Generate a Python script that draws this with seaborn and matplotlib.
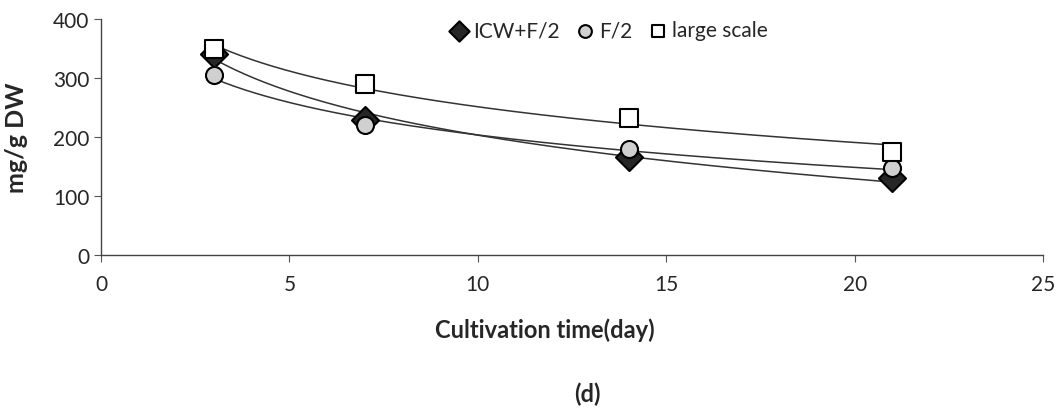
import numpy as np
import pandas as pd
import matplotlib
matplotlib.use("Agg")
import matplotlib.pyplot as plt
import seaborn as sns

# data
days = [3, 7, 14, 21]
icw_f2 = [340, 228, 166, 130]
f2 = [305, 220, 180, 147]
large_scale = [350, 290, 232, 175]

series_names = ["ICW+F/2", "F/2", "large scale"]
series_vals = [icw_f2, f2, large_scale]
markers = ["D", "o", "s"]
faces = ["#262626", "#d0d0d0", "white"]
sizes = [190, 150, 150]

sns.set_style("white")
plt.rcParams["font.family"] = ["Lato", "DejaVu Sans"]

fig = plt.figure(figsize=(10.59, 4.10), dpi=100)
ax = fig.add_axes([0.0954, 0.376, 0.8896, 0.575])

grid = np.linspace(min(days), max(days), 200)
for name, vals, m, fc, s in zip(series_names, series_vals, markers, faces, sizes):
    # logarithmic trendline like Excel
    b, a = np.polyfit(np.log(days), vals, 1)
    trend = pd.DataFrame({"x": grid, "y": a + b * np.log(grid)})
    sns.lineplot(data=trend, x="x", y="y", ax=ax, color="#333333", lw=1.1,
                 zorder=2, legend=False)
    df = pd.DataFrame({"x": days, "y": vals})
    sns.scatterplot(data=df, x="x", y="y", ax=ax, marker=m, s=s, color=fc,
                    edgecolor="black", linewidth=1.5, label=name, zorder=3)

ax.set_xlim(0, 25)
ax.set_ylim(0, 400)
ax.set_xticks([0, 5, 10, 15, 20, 25])
ax.set_yticks([0, 100, 200, 300, 400])
ax.tick_params(axis="both", labelsize=15, length=5, direction="out",
               color="#555555", left=True, bottom=True)
ax.tick_params(axis="x", pad=9)
for sp in ["top", "right"]:
    ax.spines[sp].set_visible(False)
for sp in ["left", "bottom"]:
    ax.spines[sp].set_color("#444444")
    ax.spines[sp].set_linewidth(1.0)

ax.set_xlabel("Cultivation time(day)", fontsize=17, fontweight="bold", labelpad=16)
ax.xaxis.set_label_coords(0.471, -0.265)
ax.set_ylabel("mg/g DW", fontsize=18, fontweight="bold")
ax.yaxis.set_label_coords(-0.077, 0.5)

leg = ax.legend(loc="upper center", bbox_to_anchor=(0.536, 1.075), ncol=3,
                frameon=False, fontsize=15, handletextpad=0.0, handlelength=1.4,
                columnspacing=0.5, markerscale=0.75)

fig.text(0.555, 0.02, "(d)", fontsize=17, fontweight="bold", ha="center")

fig.savefig("out.png", dpi=100)
